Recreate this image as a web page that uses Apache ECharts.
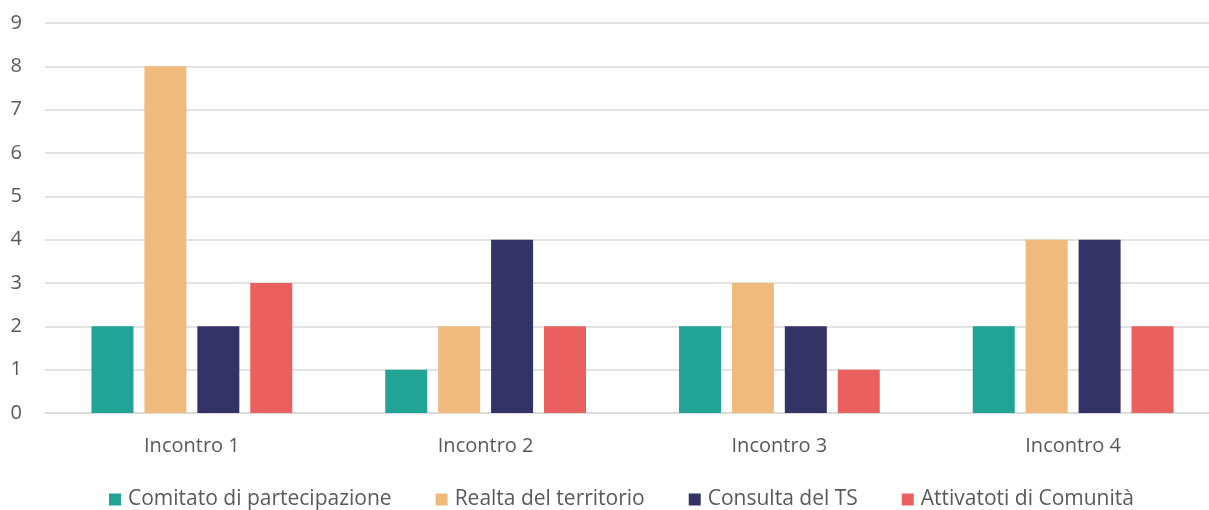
<!DOCTYPE html>
<html>
<head>
<meta charset="utf-8">
<script src="https://cdn.jsdelivr.net/npm/echarts@6/dist/echarts.min.js"></script>
<style>
  html, body { margin: 0; padding: 0; background: #fff; }
  #chart { width: 1209px; height: 510px; }
</style>
</head>
<body>
<div id="chart"></div>
<script>
const categories = ['Incontro 1', 'Incontro 2', 'Incontro 3', 'Incontro 4']
const seriesNames = ['Comitato di partecipazione', 'Realta del territorio', 'Consulta del TS', 'Attivatoti di Comunità']
const comitato = [2, 1, 2, 2]
const realta = [8, 2, 3, 4]
const consulta = [2, 4, 2, 4]
const attivatori = [3, 2, 1, 2]
const colors = ['#21A395', '#F0BA7C', '#333366', '#EA605F']

const chart = echarts.init(document.getElementById('chart'))
const font = '"Open Sans", sans-serif'

const values = [comitato, realta, consulta, attivatori]

chart.setOption({
  animation: false,
  textStyle: { fontFamily: font },
  grid: { left: 45, width: 1175, top: 23, bottom: 97, outerBoundsMode: 'none', containLabel: false },
  legend: {
    top: 484,
    left: 104,
    itemWidth: 12,
    itemHeight: 12,
    itemGap: 44,
    icon: 'rect',
    textStyle: { fontSize: 21, color: '#595959', fontFamily: font, padding: [0, 0, 0, 2] },
    data: seriesNames
  },
  xAxis: {
    type: 'category',
    data: categories,
    axisTick: { show: false },
    axisLine: { lineStyle: { color: '#D9D9D9', width: 1.5 } },
    axisLabel: { fontSize: 20, color: '#595959', margin: 23, fontFamily: font }
  },
  yAxis: {
    type: 'value',
    min: 0,
    max: 9,
    interval: 1,
    axisLabel: { fontSize: 20, color: '#595959', margin: 23, align: 'right', fontFamily: font },
    splitLine: { lineStyle: { color: '#D9D9D9', width: 1.5 } },
    axisLine: { show: false },
    axisTick: { show: false }
  },
  series: seriesNames.map((name, i) => ({
    name,
    type: 'bar',
    data: values[i],
    barWidth: 42,
    barGap: '26%',
    itemStyle: { color: colors[i] }
  }))
})
</script>
</body>
</html>
